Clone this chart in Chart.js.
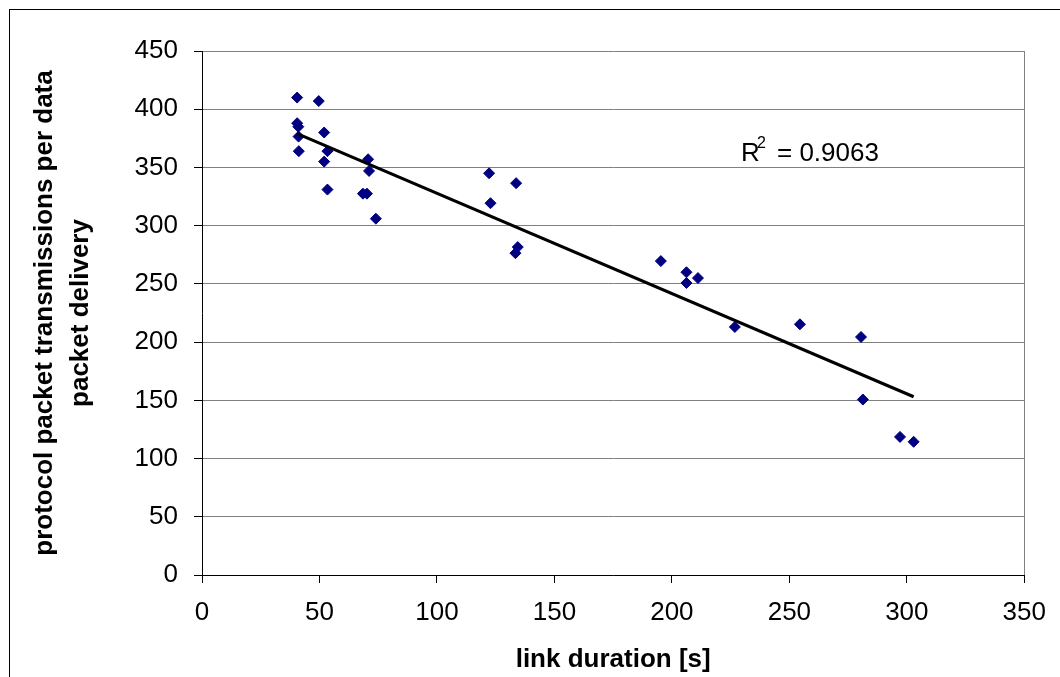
<!DOCTYPE html>
<html><head><meta charset="utf-8">
<script src="https://cdn.jsdelivr.net/npm/chart.js@4.4.1/dist/chart.umd.min.js"></script>
<style>html,body{margin:0;padding:0;background:#fff;} canvas{display:block;}</style>
</head><body>
<canvas id="c" width="1060" height="677"></canvas>
<script>
// ---- data ----
const linkDuration = [40.5, 49.7, 40.5, 41.0, 41.1, 52.0, 41.2, 53.4, 52.0, 70.7,
                      71.1, 53.4, 68.5, 70.2, 74.0, 122.2, 133.7, 122.8, 134.4, 133.4,
                      195.3, 206.2, 211.1, 206.2, 226.8, 254.5, 280.5, 281.3, 297.1, 302.9];
const protocolTx   = [410, 407, 388, 385, 376.5, 380, 364, 364, 355, 357,
                      347, 331, 327.5, 327.5, 306, 345, 336.5, 319.3, 281.6, 276.4,
                      269.6, 260, 255, 250.8, 213, 215.3, 204.4, 150.7, 118.6, 114.4];
const xTickValues = [0, 50, 100, 150, 200, 250, 300, 350];
const yTickValues = [0, 50, 100, 150, 200, 250, 300, 350, 400, 450];
const xTitle = 'link duration [s]';
const yTitle = ['protocol packet transmissions per data', 'packet delivery'];
const rSquaredText = '0.9063';

// linear trendline (least squares) from the points
const n = linkDuration.length;
const mx = linkDuration.reduce((a, b) => a + b, 0) / n;
const my = protocolTx.reduce((a, b) => a + b, 0) / n;
let sxy = 0, sxx = 0;
for (let i = 0; i < n; i++) { sxy += (linkDuration[i] - mx) * (protocolTx[i] - my); sxx += (linkDuration[i] - mx) ** 2; }
const slope = sxy / sxx, intercept = my - slope * mx;
const xMin = Math.min(...linkDuration), xMax = Math.max(...linkDuration);
const trendPoints = [xMin, xMax].map(x => ({ x: x, y: intercept + slope * x }));
const scatterPoints = linkDuration.map((x, i) => ({ x: x, y: protocolTx[i] }));

const FONT = '"Liberation Sans", Arial, sans-serif';

const framePlugin = {
  id: 'frame',
  beforeDraw(chart) {
    const ctx = chart.ctx;
    ctx.save();
    ctx.fillStyle = '#fff';
    ctx.fillRect(0, 0, chart.width, chart.height);
    ctx.strokeStyle = '#000';
    ctx.lineWidth = 1;
    ctx.strokeRect(9.5, 9.5, chart.width + 10, chart.height + 10);
    ctx.restore();
  },
  afterDraw(chart) {
    const ctx = chart.ctx;
    ctx.save();
    ctx.fillStyle = '#000';
    ctx.textBaseline = 'alphabetic';
    ctx.textAlign = 'left';
    ctx.font = '26px ' + FONT;
    ctx.fillText('R', 741, 161);
    ctx.font = '16px ' + FONT;
    ctx.fillText('2', 757, 148);
    ctx.font = '26px ' + FONT;
    ctx.fillText('= ' + rSquaredText, 777, 161);
    ctx.restore();
  }
};

new Chart(document.getElementById('c'), {
  type: 'scatter',
  data: {
    datasets: [
      {
        type: 'line',
        data: trendPoints,
        borderColor: '#000',
        borderWidth: 3,
        pointRadius: 0,
        fill: false,
        showLine: true
      },
      {
        data: scatterPoints,
        pointStyle: 'rectRot',
        pointRadius: 5.5,
        backgroundColor: '#000080',
        borderColor: '#000080',
        borderWidth: 1
      }
    ]
  },
  options: {
    responsive: false,
    animation: false,
    devicePixelRatio: 1,
    layout: { padding: { top: 51, right: 34, left: 0, bottom: 0 } },
    plugins: { legend: { display: false }, tooltip: { enabled: false } },
    scales: {
      x: {
        type: 'linear',
        min: 0, max: 350,
        afterBuildTicks: s => { s.ticks = xTickValues.map(v => ({ value: v })); },
        afterFit: s => { s.height = 102; },
        border: { display: true, color: '#000', width: 1 },
        grid: {
          drawOnChartArea: true,
          color: c => (c.tick && c.tick.value === 350) ? '#808080' : 'rgba(0,0,0,0)',
          tickColor: '#000',
          tickLength: 8
        },
        ticks: { color: '#000', font: { family: FONT, size: 26 }, padding: 14, maxRotation: 0 },
        title: {
          display: true, text: xTitle, color: '#000',
          font: { family: FONT, size: 26, weight: 'bold' },
          padding: { top: 0, bottom: 2 }
        }
      },
      y: {
        type: 'linear',
        min: 0, max: 450,
        afterBuildTicks: s => { s.ticks = yTickValues.map(v => ({ value: v })); },
        afterFit: s => { s.width = 202; },
        border: { display: true, color: '#000', width: 1 },
        grid: { color: '#808080', tickColor: '#000', tickLength: 8 },
        ticks: { color: '#000', font: { family: FONT, size: 26 }, padding: 16 },
        title: {
          display: true, text: yTitle, color: '#000',
          font: { family: FONT, size: 26, weight: 'bold', lineHeight: 1.38 },
          padding: { top: 27, bottom: 0 }
        }
      }
    }
  },
  plugins: [framePlugin]
});
</script>
</body></html>
